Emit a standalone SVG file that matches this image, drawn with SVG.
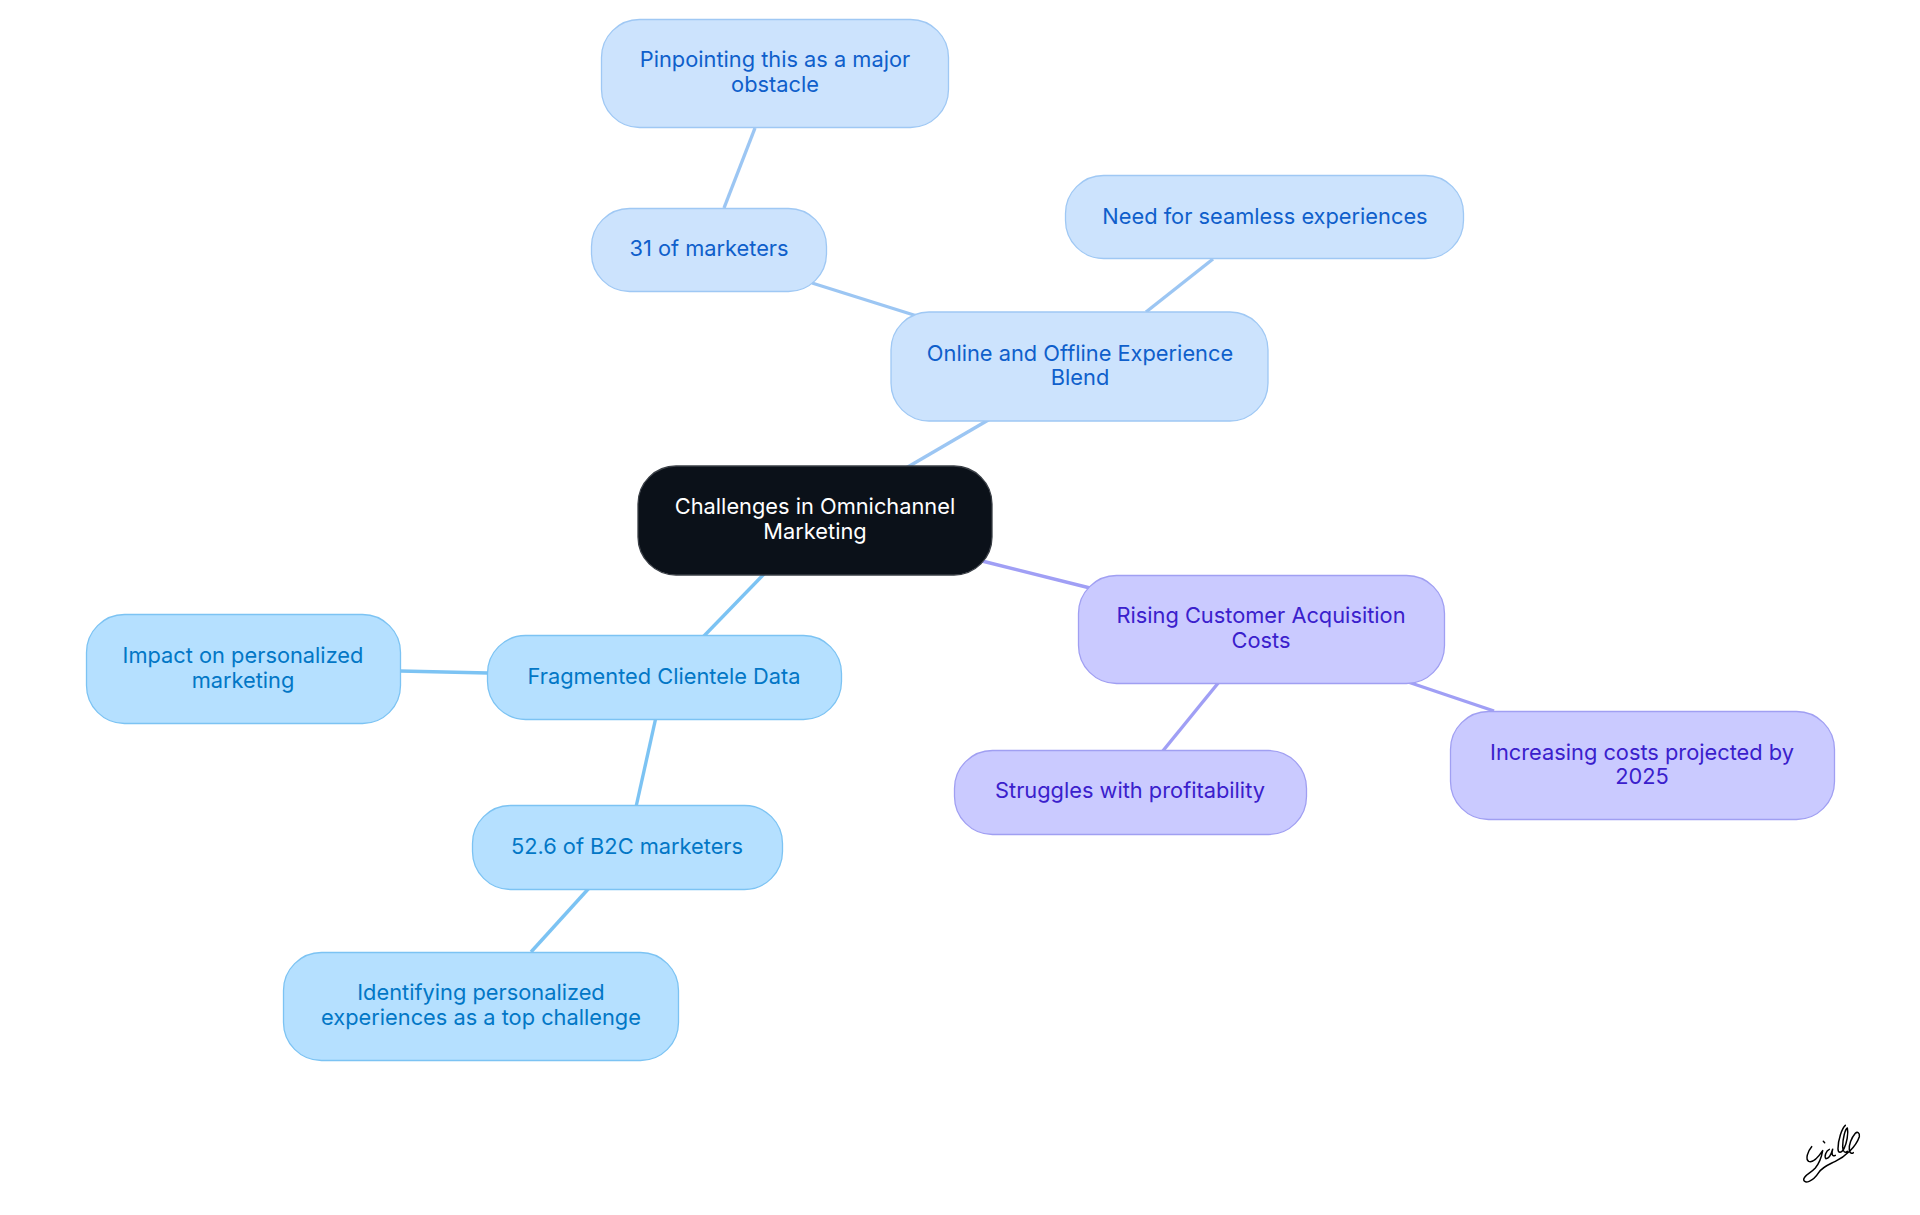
<svg xmlns="http://www.w3.org/2000/svg" width="1920" height="1215" viewBox="0 0 1920 1215">
<style>
text{font-family:"Inter","Noto Sans","Liberation Sans",sans-serif;font-size:21.8px;text-anchor:middle}
rect{stroke-width:1.3;rx:38px;ry:38px}
.c{fill:none;stroke-width:3.4}
.b rect{fill:#cce3fd;stroke:#9fc8f4}.b text{fill:#0f5fcb}
.s rect{fill:#b5e0ff;stroke:#7cc3f3}.s text{fill:#0277c6}
.p rect{fill:#cacaff;stroke:#a09ff2}.p text{fill:#3a20cc}
.lb{stroke:#9cc6f3}.ls{stroke:#7cc3f3}.lp{stroke:#a09ff5}
</style>
<rect x="0" y="0" width="1920" height="1215" style="fill:#fff;stroke:none;rx:0;ry:0"/>
<g id="connectors">
<path class="c lb" d="M906 468L990 419"/>
<path class="c lb" d="M755 128L724 208"/>
<path class="c lb" d="M812 283L917 316"/>
<path class="c lb" d="M1213 259L1146 312"/>
<path class="c ls" d="M765 573L703 637"/>
<path class="c ls" d="M656 717L636 807"/>
<path class="c ls" d="M590 887L531 952"/>
<path class="c ls" d="M400 671L488 673"/>
<path class="c lp" d="M982 561L1090 588"/>
<path class="c lp" d="M1219 682L1162 752"/>
<path class="c lp" d="M1408 682L1494 711"/>
</g>
<g id="root"><rect x="638" y="466" width="354" height="109" style="fill:#0b1119;stroke:#3a3f46"/><text x="815" y="514" fill="#fff">Challenges in Omnichannel</text><text x="815" y="539" fill="#fff">Marketing</text></g>
<g id="online" class="b"><rect x="891" y="312" width="377" height="109"/><text x="1080" y="361">Online and Offline Experience</text><text x="1080" y="385">Blend</text></g>
<g id="pinpointing" class="b"><rect x="601.500" y="19.500" width="347" height="108"/><text x="775" y="67">Pinpointing this as a major</text><text x="775" y="92">obstacle</text></g>
<g id="marketers31" class="b"><rect x="591.500" y="208.500" width="235" height="83"/><text x="709" y="256">31 of marketers</text></g>
<g id="seamless" class="b"><rect x="1065.500" y="175.500" width="398" height="83"/><text x="1265" y="224">Need for seamless experiences</text></g>
<g id="rising" class="p"><rect x="1078.500" y="575.500" width="366" height="108"/><text x="1261" y="623">Rising Customer Acquisition</text><text x="1261" y="648">Costs</text></g>
<g id="increasing" class="p"><rect x="1450.500" y="711.500" width="384" height="108"/><text x="1642" y="760">Increasing costs projected by</text><text x="1642" y="784">2025</text></g>
<g id="struggles" class="p"><rect x="954.500" y="750.500" width="352" height="84"/><text x="1130" y="798">Struggles with profitability</text></g>
<g id="fragmented" class="s"><rect x="487.500" y="635.500" width="354" height="84"/><text x="664" y="684">Fragmented Clientele Data</text></g>
<g id="impact" class="s"><rect x="86.500" y="614.500" width="314" height="109"/><text x="243" y="663">Impact on personalized</text><text x="243" y="688">marketing</text></g>
<g id="b2c" class="s"><rect x="472.500" y="805.500" width="310" height="84"/><text x="627" y="854">52.6 of B2C marketers</text></g>
<g id="identifying" class="s"><rect x="283.500" y="952.500" width="395" height="108"/><text x="481" y="1000">Identifying personalized</text><text x="481" y="1025">experiences as a top challenge</text></g>
<path id="signature" transform="translate(1770 1100) scale(.3333)" fill="none" stroke="#000" stroke-width="4.500" stroke-linecap="round" stroke-linejoin="round" d="M125 140C112 155 106 178 116 184C130 190 146 170 158 152C154 175 146 192 136 204C122 220 100 226 101 240C103 252 128 246 146 218C158 200 172 196 196 184C226 170 258 140 268 110C270 98 262 94 256 100C244 114 236 135 238 150C240 160 246 162 250 158M226 76C216 84 204 120 204 146C204 160 214 160 222 146C230 130 236 100 232 84C226 86 218 115 218 140C218 156 226 160 232 154M160 124L164 128M178 148C168 152 162 170 168 176C176 176 184 162 188 148C184 160 186 172 196 166"/>
</svg>
